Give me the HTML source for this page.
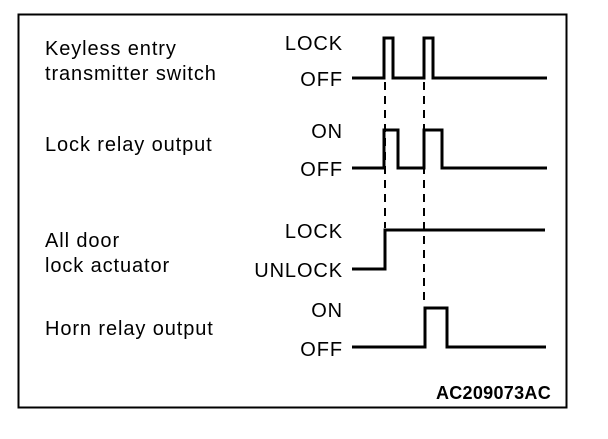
<!DOCTYPE html>
<html><head><style>body{margin:0;background:#fff}</style></head><body>
<svg width="608" height="434" xmlns="http://www.w3.org/2000/svg" font-family="Liberation Sans, Arial, sans-serif" font-size="20" letter-spacing="0.9">
<rect x="18.5" y="14.5" width="548" height="393" fill="none" stroke="#000" stroke-width="2"/>
<g fill="#000">
<text x="45" y="55">Keyless entry</text>
<text x="45" y="80">transmitter switch</text>
<text x="45" y="151">Lock relay output</text>
<text x="45" y="247">All door</text>
<text x="45" y="272">lock actuator</text>
<text x="45" y="335">Horn relay output</text>
<g text-anchor="end">
<text x="343" y="50">LOCK</text>
<text x="343" y="86">OFF</text>
<text x="343" y="138">ON</text>
<text x="343" y="176">OFF</text>
<text x="343" y="238">LOCK</text>
<text x="343" y="277">UNLOCK</text>
<text x="343" y="317">ON</text>
<text x="343" y="356">OFF</text>
<text x="551" y="399" font-size="18" letter-spacing="0.3" font-weight="bold">AC209073AC</text>
</g></g>
<g fill="none" stroke="#000" stroke-width="3">
<polyline points="352,78 384,78 384,38 393,38 393,78 424,78 424,38 433,38 433,78 547,78"/>
<polyline points="352,168 384,168 384,130 398,130 398,168 424,168 424,130 442,130 442,168 547,168"/>
<polyline points="352,269 385,269 385,230 545,230"/>
<polyline points="352,347 425,347 425,308 447,308 447,347 546,347"/>
</g>
<g stroke="#000" stroke-width="2" stroke-dasharray="8,6">
<line x1="385" y1="82" x2="385" y2="228"/>
<line x1="424" y1="82" x2="424" y2="306"/>
</g>
</svg>
</body></html>
